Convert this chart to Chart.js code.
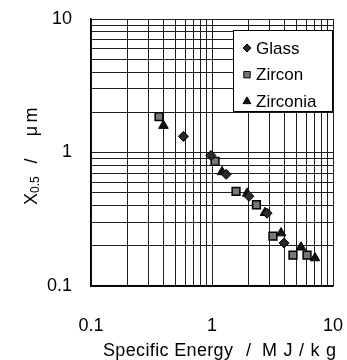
<!DOCTYPE html>
<html>
<head>
<meta charset="utf-8">
<script src="https://cdn.jsdelivr.net/npm/chart.js@4"></script>
<style>
  html, body { margin: 0; padding: 0; background: #fff; }
  canvas { display: block; }
</style>
</head>
<body>
<canvas id="energyChart" width="347" height="360"></canvas>
<script>
// median size X0.5 against specific grinding energy, per bead material
const glassX = [0.58, 0.98, 1.31, 2.02, 2.85, 3.94];
const glassY = [1.32, 0.95, 0.686, 0.47, 0.351, 0.21];
const zirconX = [0.365, 1.06, 1.58, 2.33, 3.19, 4.67, 6.1];
const zirconY = [1.86, 0.857, 0.512, 0.406, 0.236, 0.17, 0.17];
const zirconiaX = [0.397, 1.21, 1.95, 2.74, 3.72, 5.44, 7.1];
const zirconiaY = [1.59, 0.715, 0.494, 0.354, 0.249, 0.195, 0.162];
const tickLabels = [0.1, 1, 10];

const FONT = '"Liberation Sans", Arial, sans-serif';

// 1..9 per decade, used for the grid lines
function logGrid(min, max) {
    let values = [];
    for (let d = min; d < max; d *= 10) {
        for (let m = 1; m < 10; m++) {
            values.push(Number((m * d).toPrecision(3)));
        }
    }
    values.push(max);
    return values;
}

function toPoints(xs, ys) {
    return xs.map((x, i) => ({x: x, y: ys[i]}));
}

const series = [
    {label: 'Glass', data: toPoints(glassX, glassY), pointStyle: 'rectRot', pointRadius: 5,
        backgroundColor: '#2a2a2a', borderColor: '#000', legendRadius: 4},
    {label: 'Zircon', data: toPoints(zirconX, zirconY), pointStyle: 'rect', pointRadius: 5.5,
        backgroundColor: '#777', borderColor: '#000', borderWidth: 1.5, legendRadius: 4.5},
    {label: 'Zirconia', data: toPoints(zirconiaX, zirconiaY), pointStyle: 'triangle', pointRadius: 5.5,
        backgroundColor: '#111', borderColor: '#000', legendRadius: 4.5}
];

// legend box sitting inside the plot, top right
const insideLegend = {
    id: 'insideLegend',
    afterDatasetsDraw(chart) {
        const ctx = chart.ctx;
        const area = chart.chartArea;
        const box = {left: 233, top: 30, right: area.right, bottom: 112};
        ctx.save();
        ctx.fillStyle = '#fff';
        ctx.fillRect(box.left, box.top, box.right - box.left, box.bottom - box.top);
        ctx.strokeStyle = '#000';
        ctx.lineWidth = 1;
        ctx.strokeRect(box.left + 0.5, box.top + 0.5, box.right - box.left - 1, box.bottom - box.top - 1);
        ctx.font = '17px ' + FONT;
        ctx.textBaseline = 'middle';
        ctx.textAlign = 'left';
        chart.data.datasets.forEach((ds, i) => {
            const y = box.top + 18 + i * 26.7;
            ctx.fillStyle = ds.backgroundColor;
            ctx.strokeStyle = ds.borderColor;
            ctx.lineWidth = 1;
            Chart.helpers.drawPoint(ctx, {pointStyle: ds.pointStyle, radius: ds.legendRadius, rotation: 0, borderWidth: 1}, 247, y);
            ctx.fillStyle = '#000';
            ctx.fillText(ds.label, 256, y + 1);
        });
        ctx.restore();
    }
};

// write text so that it fills a given width
function fillSpread(ctx, text, x, y, width) {
    ctx.letterSpacing = '0px';
    const plain = ctx.measureText(text).width;
    const spacing = text.length > 1 ? Math.max((width - plain) / (text.length - 1), 0) : 0;
    ctx.letterSpacing = spacing.toFixed(2) + 'px';
    ctx.fillText(text, x, y);
    ctx.letterSpacing = '0px';
}

// axis titles, the y one carries a subscript
const axisTitles = {
    id: 'axisTitles',
    afterDraw(chart) {
        const ctx = chart.ctx;
        ctx.save();
        ctx.fillStyle = '#000';

        // x title in three pieces, unit set a bit wide
        ctx.font = '18px ' + FONT;
        ctx.textAlign = 'left';
        ctx.textBaseline = 'alphabetic';
        fillSpread(ctx, 'Specific Energy', 103, 356, 130);
        ctx.fillText('/', 246, 356);
        fillSpread(ctx, 'MJ/kg', 262, 356, 74);

        // y title, rotated; u runs upward from y = 157
        ctx.translate(32, 157);
        ctx.rotate(-Math.PI / 2);
        ctx.textBaseline = 'middle';
        ctx.textAlign = 'left';
        ctx.font = '18px ' + FONT;
        ctx.fillText('X', -48, 0);
        const xw = ctx.measureText('X').width;
        ctx.font = '12px ' + FONT;
        ctx.fillText('0.5', -48 + xw, 4);
        ctx.font = '18px ' + FONT;
        ctx.textAlign = 'center';
        ctx.fillText('/', -4, 0);
        ctx.fillText('\u03bc', 26, 0);
        ctx.fillText('m', 42, 0);
        ctx.restore();
    }
};

function logAxis(extra) {
    return Object.assign({
        type: 'logarithmic',
        min: 0.1,
        max: 10,
        afterBuildTicks: scale => {
            scale.ticks = logGrid(0.1, 10).map(v => ({value: v}));
        },
        grid: {color: '#1e1e1e', lineWidth: 1, drawTicks: false},
        border: {color: '#000', width: 1.5},
        title: {display: false}
    }, extra);
}

const chart = new Chart(document.getElementById('energyChart'), {
    type: 'scatter',
    data: {datasets: series},
    options: {
        responsive: false,
        animation: false,
        layout: {padding: {top: 19, right: 14, left: 0, bottom: 0}},
        scales: {
            x: logAxis({
                // fixed axis band, label overhang handled by the layout padding
                afterFit: scale => {
                    scale.height = 74;
                    scale.paddingLeft = 0;
                    scale.paddingRight = 0;
                },
                ticks: {
                    autoSkip: false, maxRotation: 0, padding: 29, color: '#000',
                    font: {size: 18, family: FONT},
                    callback: value => tickLabels.includes(value) ? String(value) : ''
                }
            }),
            y: logAxis({
                afterFit: scale => {
                    scale.width = 91;
                    scale.paddingTop = 0;
                    scale.paddingBottom = 0;
                },
                ticks: {
                    autoSkip: false, padding: 19, color: '#000',
                    font: {size: 18, family: FONT},
                    callback: value => tickLabels.includes(value) ? String(value) : ''
                }
            })
        },
        plugins: {
            legend: {display: false},
            tooltip: {enabled: false}
        }
    },
    plugins: [insideLegend, axisTitles]
});
</script>
</body>
</html>
